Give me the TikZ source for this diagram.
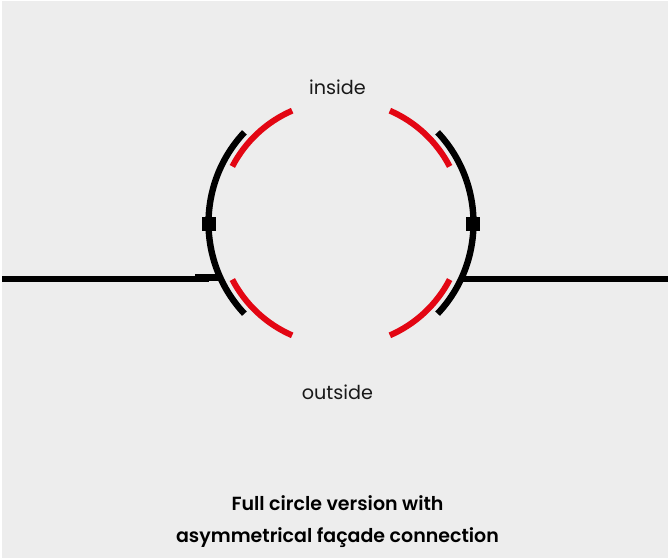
\documentclass[tikz,border=0pt]{standalone}
\usepackage{fontspec}
\setmainfont{Poppins}
\newfontfamily\titlefont{Poppins SemiBold}
\definecolor{bg}{HTML}{EDEDED}
\definecolor{redarc}{HTML}{E30613}
\tikzset{
  blackarc/.style={draw=black,line width=6.4pt},
  redpart/.style={draw=redarc,line width=6pt},
  wall/.style={draw=black,line width=6.4pt},
  joint/.style={fill=black},
  labeltext/.style={font=\fontsize{19.2}{22}\selectfont,text=black!90,inner sep=0pt,anchor=base},
  titletext/.style={font=\titlefont\fontsize{19}{22}\selectfont,text=black,inner sep=0pt,anchor=base}
}
\begin{document}
\begin{tikzpicture}[x=1pt,y=1pt]
\useasboundingbox (0,0) rectangle (668,558);
\fill[bg] (2,0) rectangle (668,557);
\coordinate (c) at (341,335);
% walls
\draw[wall] (2,279.3) -- (209,279.3);
\draw[wall] (195,280.6) -- (220,280.6);
\draw[wall] (460,279.3) -- (668,279.3);
% black arcs
\draw[blackarc] ([shift={(136.8:132.5pt)}]c) arc[start angle=136.8,end angle=223.2,radius=132.5pt];
\draw[blackarc] ([shift={(43.2:132.5pt)}]c) arc[start angle=43.2,end angle=-43.2,radius=132.5pt];
% red arcs
\draw[redpart] ([shift={(113.5:122.5pt)}]c) arc[start angle=113.5,end angle=152.5,radius=122.5pt];
\draw[redpart] ([shift={(207.5:122.5pt)}]c) arc[start angle=207.5,end angle=246.5,radius=122.5pt];
\draw[redpart] ([shift={(66.5:122.5pt)}]c) arc[start angle=66.5,end angle=27.5,radius=122.5pt];
\draw[redpart] ([shift={(-27.5:122.5pt)}]c) arc[start angle=-27.5,end angle=-66.5,radius=122.5pt];
% joints
\fill[joint] (202.3,327.5) rectangle (216.3,341.5);
\fill[joint] (465.5,327.5) rectangle (479.7,341.5);
% labels
\node[labeltext] (inside) at (337.5,463) {inside};
\node[labeltext] (outside) at (337.5,159) {outside};
\node[titletext] (t1) at (337.5,47.5) {Full circle version with};
\node[titletext] (t2) at (337.5,15.5) {asymmetrical façade connection};
\end{tikzpicture}
\end{document}
